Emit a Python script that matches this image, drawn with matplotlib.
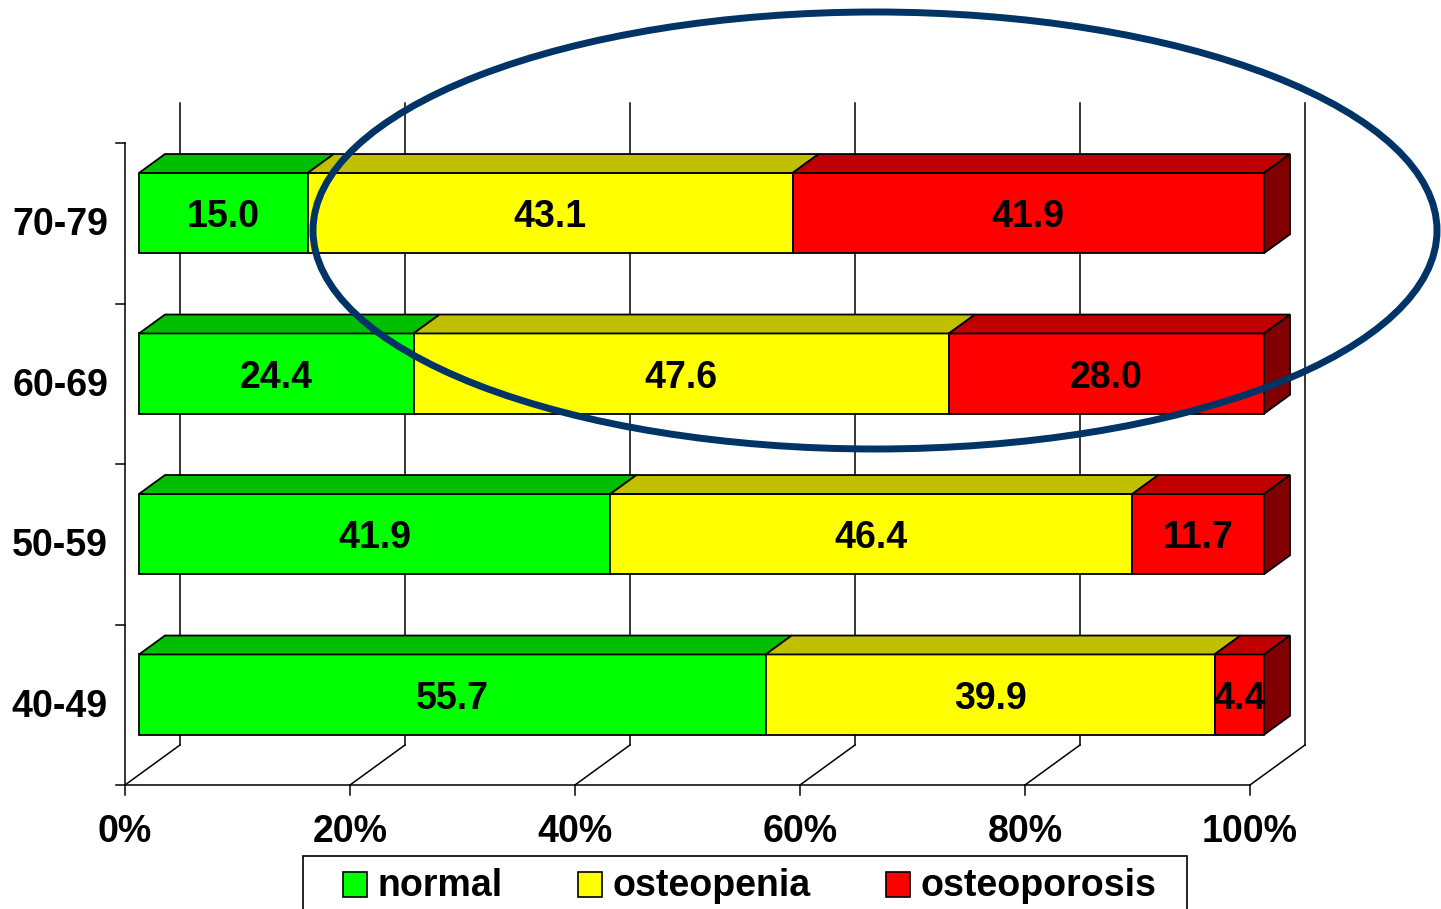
import matplotlib
matplotlib.use("Agg")
import matplotlib.pyplot as plt
from matplotlib.patches import Polygon, Ellipse, Rectangle

plt.rcParams['font.family'] = ['Liberation Sans', 'DejaVu Sans']

# ---- data -------------------------------------------------------------
age_groups = ['40-49', '50-59', '60-69', '70-79']
normal = [55.7, 41.9, 24.4, 15.0]
osteopenia = [39.9, 46.4, 47.6, 43.1]
osteoporosis = [4.4, 11.7, 28.0, 41.9]
series_names = ['normal', 'osteopenia', 'osteoporosis']
x_ticks = [0, 20, 40, 60, 80, 100]
x_tick_labels = ['0%', '20%', '40%', '60%', '80%', '100%']

# ---- styling ----------------------------------------------------------
front_colors = ['#00FF00', '#FFFF00', '#FF0000']
top_colors = ['#00BF00', '#C0C000', '#C00000']
side_colors = ['#008000', '#808000', '#800000']
FS = 27

W, H = 1441, 909
fig = plt.figure(figsize=(W / 100, H / 100), dpi=100)
ax = fig.add_axes([0, 0, 1, 1])
ax.axis('off')

# pixel geometry of the oblique 3-D frame
X0_PX, PX_PER_PCT = 125, 11.25
Y_BOTTOM_PX, PX_PER_CAT = 785, 160.5
ax.set_xlim(-X0_PX / PX_PER_PCT, (W - X0_PX) / PX_PER_PCT)
y_lo = -0.5 - (H - Y_BOTTOM_PX) / PX_PER_CAT
ax.set_ylim(y_lo, y_lo + H / PX_PER_CAT)

DX = 55 / PX_PER_PCT       # full depth, x direction (data units)
DY = 40 / PX_PER_CAT       # full depth, y direction (data units)
f_front = 14 / 55          # depth of bar front face
f_depth = 26 / 55          # bar thickness in depth
bar_h = 0.5
n = len(age_groups)
lw_axis = 1.1

# ---- walls / gridlines --------------------------------------------------
for p, lab in zip(x_ticks, x_tick_labels):
    ax.plot([p, p + DX], [-0.5, -0.5 + DY], color='black', lw=lw_axis, zorder=1)
    ax.plot([p + DX, p + DX], [-0.5 + DY, n - 0.5 + DY], color='black',
            lw=lw_axis, zorder=1)
    ax.plot([p, p], [-0.5, -0.5 - 10 / PX_PER_CAT], color='black', lw=lw_axis,
            zorder=1)
    ax.text(p, -0.5 - 47 / PX_PER_CAT, lab,
            ha='center', va='center', fontsize=FS, fontweight='bold')

ax.plot([0, 100], [-0.5, -0.5], color='black', lw=lw_axis, zorder=1)
ax.plot([0, 0], [-0.5, n - 0.5], color='black', lw=lw_axis, zorder=1)
for k in range(n + 1):
    ax.plot([-9 / PX_PER_PCT, 0], [k - 0.5, k - 0.5], color='black',
            lw=lw_axis, zorder=1)

# ---- stacked 3-D bars ------------------------------------------------
series = [normal, osteopenia, osteoporosis]
ox, oy = f_front * DX, f_front * DY
dx, dy = f_depth * DX, f_depth * DY
for i, label in enumerate(age_groups):
    yc = i + oy
    yt = yc + bar_h / 2
    yb = yc - bar_h / 2
    left = 0.0
    for s, vals in enumerate(series):
        v = vals[i]
        x0 = left + ox
        x1 = x0 + v
        ax.barh(yc, v, left=x0, height=bar_h, color=front_colors[s],
                edgecolor='black', linewidth=1.3, zorder=3)
        ax.add_patch(Polygon([(x0, yt), (x1, yt), (x1 + dx, yt + dy),
                              (x0 + dx, yt + dy)], closed=True,
                             facecolor=top_colors[s], edgecolor='black',
                             linewidth=1.3, zorder=3))
        if s == len(series) - 1:
            ax.add_patch(Polygon([(x1, yb), (x1, yt), (x1 + dx, yt + dy),
                                  (x1 + dx, yb + dy)], closed=True,
                                 facecolor=side_colors[s], edgecolor='black',
                                 linewidth=1.3, zorder=3))
        ax.text((x0 + x1) / 2, yc - 4 / PX_PER_CAT, f'{v:.1f}', ha='center',
                va='center', fontsize=FS, fontweight='bold', zorder=4)
        left += v
    ax.text(-17 / PX_PER_PCT, i - 2 / PX_PER_CAT, label, ha='right',
            va='center', fontsize=FS, fontweight='bold')

# ---- highlight ring ---------------------------------------------------
ax.add_patch(Ellipse(((875 - X0_PX) / PX_PER_PCT,
                      (H - 230.5 - (H - Y_BOTTOM_PX)) / PX_PER_CAT - 0.5),
                     1124 / PX_PER_PCT, 437 / PX_PER_CAT, fill=False,
                     edgecolor='#003366', linewidth=5.0, zorder=6,
                     clip_on=False))

# ---- legend ---------------------------------------------------------
def fx(px):
    return px / W


def fy(py):
    return 1 - py / H


fig.patches.append(Rectangle((fx(303), fy(915)), fx(1187) - fx(303),
                             fy(856) - fy(915), transform=fig.transFigure,
                             facecolor='white', edgecolor='black',
                             linewidth=1.2))
legend_sq_x = [343, 578, 886]
for s, name in enumerate(series_names):
    fig.patches.append(Rectangle((fx(legend_sq_x[s]), fy(897)),
                                 fx(24), 25 / H, transform=fig.transFigure,
                                 facecolor=front_colors[s], edgecolor='black',
                                 linewidth=1.2))
    fig.text(fx(legend_sq_x[s] + 35), fy(886), name, ha='left', va='center',
             fontsize=FS, fontweight='bold')

fig.savefig('out.png', dpi=100)
